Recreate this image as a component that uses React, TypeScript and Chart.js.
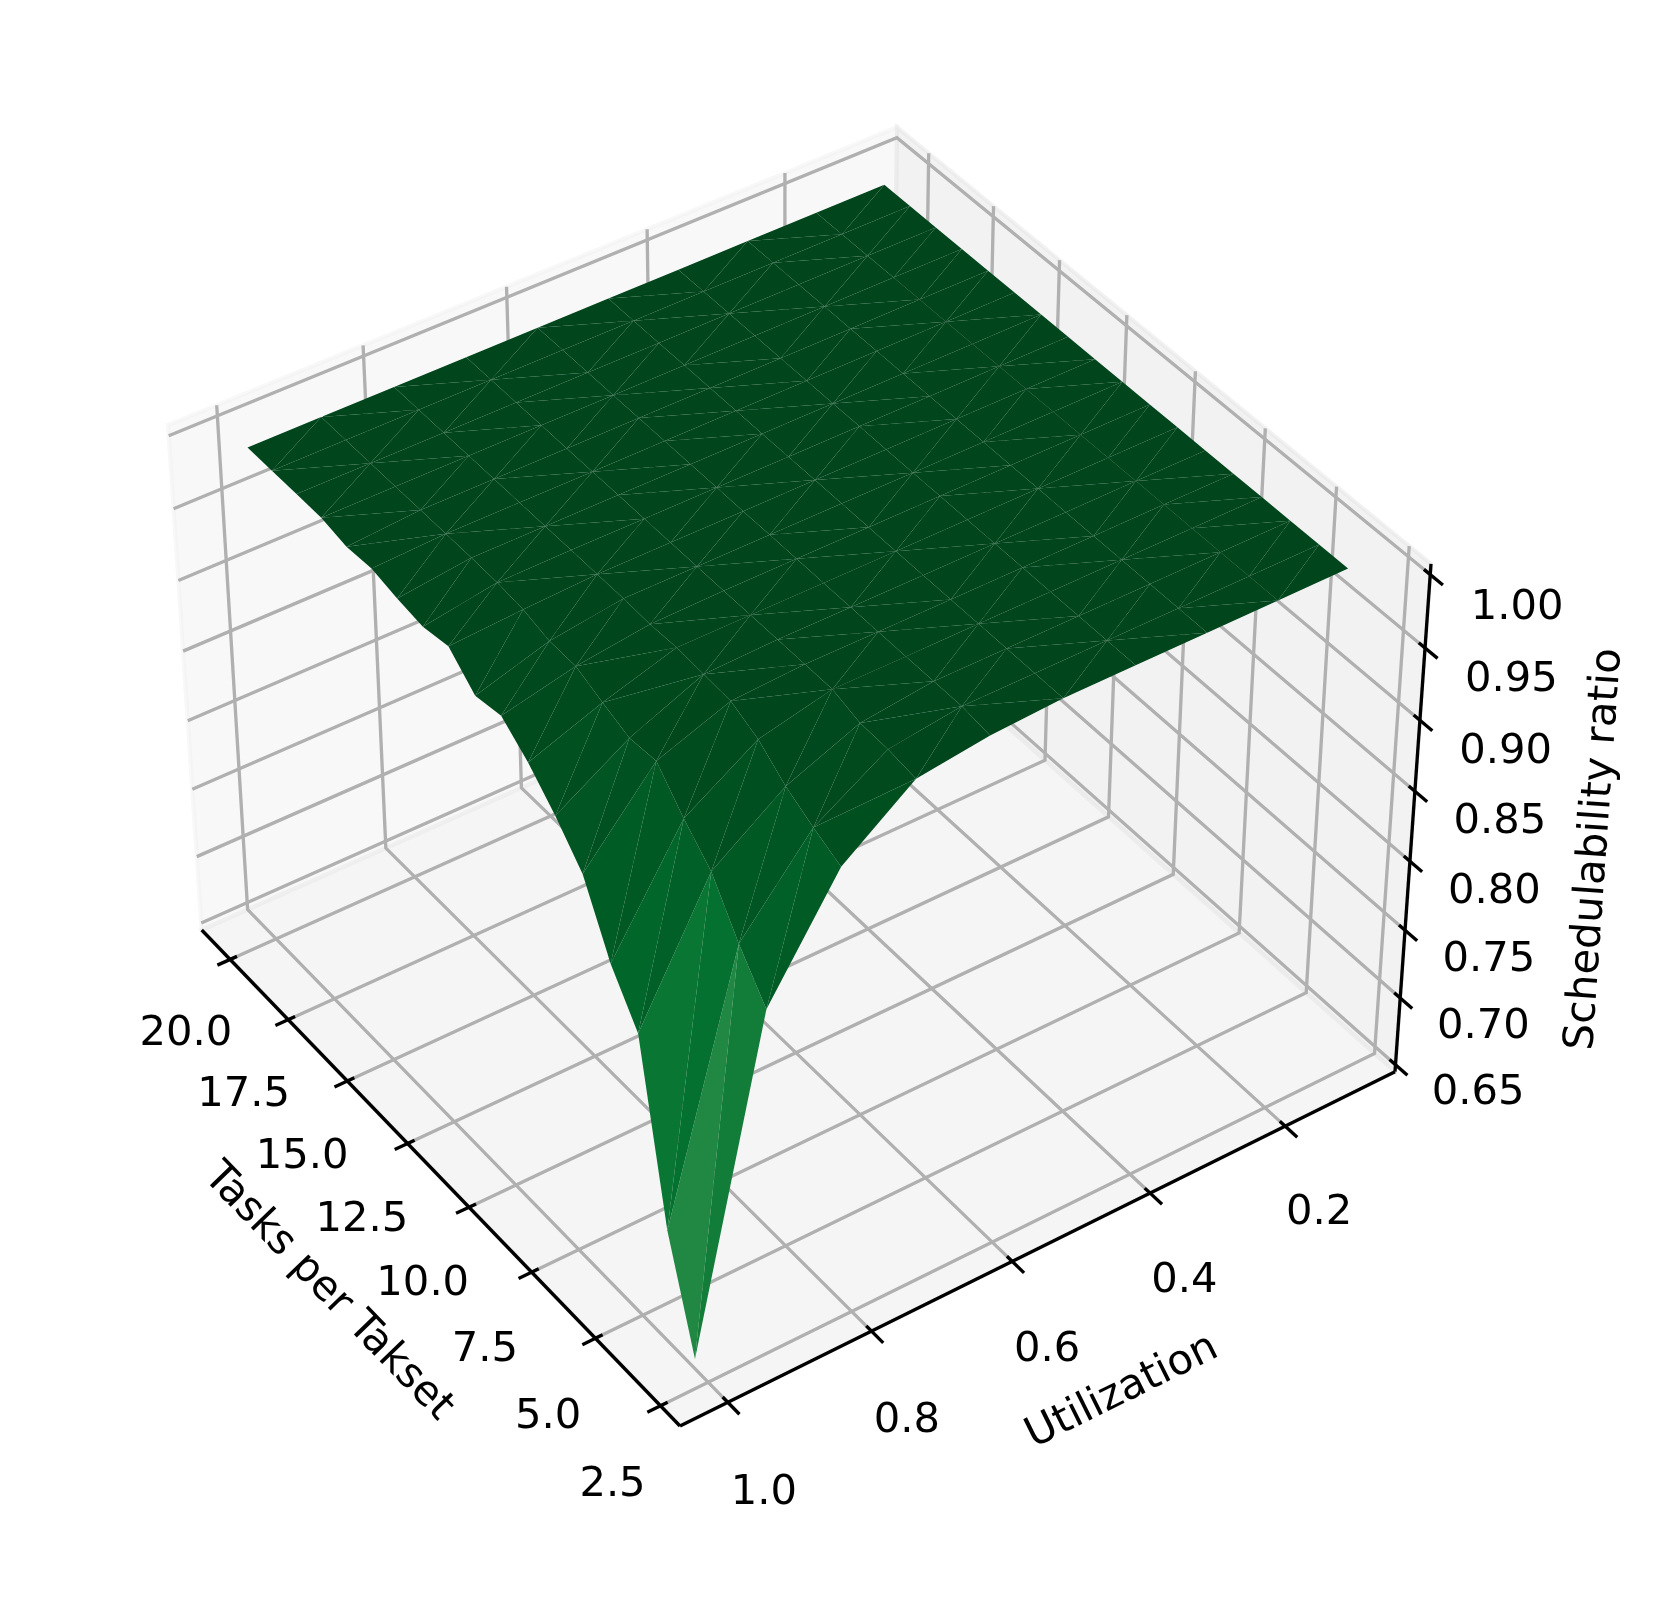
import React, { useEffect, useRef } from "react";
import { Chart, registerables } from "chart.js";

Chart.register(...registerables);

const WIDTH = 1653;
const HEIGHT = 1602;

// ---- data ----
const tasksPerTaskset = [20, 19, 18, 17, 16, 15, 14, 13, 12, 11, 10, 9, 8, 7, 6, 5, 4, 3];
const utilization = [1.0, 0.9, 0.8, 0.7, 0.6, 0.5, 0.4, 0.3, 0.2, 0.1];

const ratioTasks20 = [0.998, 0.998, 0.998, 0.998, 0.998, 0.998, 0.998, 0.998, 0.998, 0.998];
const ratioTasks19 = [0.998, 0.998, 0.998, 0.998, 0.998, 0.998, 0.998, 0.998, 0.998, 0.998];
const ratioTasks18 = [0.998, 0.998, 0.998, 0.998, 0.998, 0.998, 0.998, 0.998, 0.998, 0.998];
const ratioTasks17 = [0.998, 0.998, 0.998, 0.998, 0.998, 0.998, 0.998, 0.998, 0.998, 0.998];
const ratioTasks16 = [0.9944, 0.998, 0.998, 0.998, 0.998, 0.998, 0.998, 0.998, 0.998, 0.998];
const ratioTasks15 = [0.996, 0.998, 0.998, 0.998, 0.998, 0.998, 0.998, 0.998, 0.998, 0.998];
const ratioTasks14 = [0.992, 0.998, 0.998, 0.998, 0.998, 0.998, 0.998, 0.998, 0.998, 0.998];
const ratioTasks13 = [0.9893, 0.9975, 0.998, 0.998, 0.998, 0.998, 0.998, 0.998, 0.998, 0.998];
const ratioTasks12 = [0.9928, 0.9957, 0.998, 0.998, 0.998, 0.998, 0.998, 0.998, 0.998, 0.998];
const ratioTasks11 = [0.9761, 0.9911, 0.998, 0.998, 0.998, 0.998, 0.998, 0.998, 0.998, 0.998];
const ratioTasks10 = [0.9795, 0.9907, 0.997, 0.998, 0.998, 0.998, 0.998, 0.998, 0.998, 0.998];
const ratioTasks9 = [0.9649, 0.983, 0.998, 0.998, 0.998, 0.998, 0.998, 0.998, 0.998, 0.998];
const ratioTasks8 = [0.946, 0.976, 0.9967, 0.998, 0.998, 0.998, 0.998, 0.998, 0.998, 0.998];
const ratioTasks7 = [0.9236, 0.9776, 0.9955, 0.998, 0.998, 0.998, 0.998, 0.998, 0.998, 0.998];
const ratioTasks6 = [0.8796, 0.9559, 0.9867, 0.998, 0.998, 0.998, 0.998, 0.998, 0.998, 0.998];
const ratioTasks5 = [0.8492, 0.9374, 0.9722, 0.9923, 0.998, 0.998, 0.998, 0.998, 0.998, 0.998];
const ratioTasks4 = [0.7272, 0.9057, 0.9617, 0.9916, 0.998, 0.998, 0.998, 0.998, 0.998, 0.998];
const ratioTasks3 = [0.652, 0.8785, 0.9527, 0.989, 0.9955, 0.998, 0.998, 0.998, 0.998, 0.998];

const ratios = [
  ratioTasks20, ratioTasks19, ratioTasks18, ratioTasks17, ratioTasks16, ratioTasks15,
  ratioTasks14, ratioTasks13, ratioTasks12, ratioTasks11, ratioTasks10, ratioTasks9,
  ratioTasks8, ratioTasks7, ratioTasks6, ratioTasks5, ratioTasks4, ratioTasks3,
];

// which cells of the triangulation split along the (t, u) -> (t-1, u-0.1) diagonal
const fallingDiagonals = [
  [1, 2, 4, 5, 7],
  [0, 3, 5, 7],
  [1, 2, 3, 6],
  [0, 4, 5, 7],
  [0, 2, 4, 5, 7],
  [1, 3, 4, 5, 8],
  [2, 3, 6, 7],
  [1, 4, 6, 8],
  [2, 5, 8],
  [3, 4, 6, 7],
  [1, 2, 4, 6],
  [1, 3, 5, 7],
  [2, 3, 4, 6, 8],
  [2, 4, 6, 8],
  [3, 5, 7, 8],
  [3, 5],
  [2, 4, 6, 7],
];

const tasksTicks = [2.5, 5, 7.5, 10, 12.5, 15, 17.5, 20];
const tasksTickLabels = ["2.5", "5.0", "7.5", "10.0", "12.5", "15.0", "17.5", "20.0"];
const utilTicks = [0.2, 0.4, 0.6, 0.8, 1.0];
const utilTickLabels = ["0.2", "0.4", "0.6", "0.8", "1.0"];
const ratioTicks = [0.65, 0.7, 0.75, 0.8, 0.85, 0.9, 0.95, 1.0];
const ratioTickLabels = ["0.65", "0.70", "0.75", "0.80", "0.85", "0.90", "0.95", "1.00"];

const greens = ["#f7fcf5", "#e5f5e0", "#c7e9c0", "#a1d99b", "#74c476", "#41ab5d", "#238b45", "#006d2c", "#00441b"];

// ---- view: box limits and camera ----
const tasksRange = [1.7604, 21.2396];
const utilRange = [0.034375, 1.065625];
const ratioRange = [0.64475, 1.00725];

const cam = {
  ox: 680, oy: 1426,
  ax: -462.86, ay: -424.82,
  bx: 790.51, by: -296.29,
  cx: -46.15, cy: -568.5,
  p: 0.07654, q: 0.05413, r: -0.05877,
};

type P3 = [number, number, number];

function project(a: number, b: number, c: number) {
  const w = 1 + a * cam.p + b * cam.q + c * cam.r;
  return {
    x: (cam.ox + a * cam.ax + b * cam.bx + c * cam.cx) / w,
    y: (cam.oy + a * cam.ay + b * cam.by + c * cam.cy) / w,
  };
}
const depth = (p: P3) => 1 + p[0] * cam.p + p[1] * cam.q + p[2] * cam.r;
const aOf = (t: number) => (t - tasksRange[0]) / (tasksRange[1] - tasksRange[0]);
const bOf = (u: number) => (utilRange[1] - u) / (utilRange[1] - utilRange[0]);
const cOf = (z: number) => (z - ratioRange[0]) / (ratioRange[1] - ratioRange[0]);

function greensAt(v: number) {
  const t = Math.max(0, Math.min(1, v)) * (greens.length - 1);
  const i = Math.min(greens.length - 2, Math.floor(t));
  const f = t - i;
  const rgb = (h: string) => [1, 3, 5].map((k) => parseInt(h.slice(k, k + 2), 16));
  const c0 = rgb(greens[i]);
  const c1 = rgb(greens[i + 1]);
  const m = c0.map((v0, k) => Math.round(v0 + (c1[k] - v0) * f));
  return `rgb(${m[0]},${m[1]},${m[2]})`;
}

function polygon(points: P3[], fill: string, stroke?: string, strokeWidth = 0) {
  const data = points.map((p) => project(p[0], p[1], p[2]));
  data.push({ ...data[0] });
  return {
    data,
    fill: "shape",
    backgroundColor: fill,
    borderColor: stroke ?? fill,
    borderWidth: strokeWidth,
    pointRadius: 0,
    tension: 0,
    clip: false,
  };
}

function polyline(points: P3[], color: string, width: number) {
  return {
    data: points.map((p) => project(p[0], p[1], p[2])),
    fill: false,
    borderColor: color,
    borderWidth: width,
    borderCapStyle: "butt",
    borderJoinStyle: "miter",
    pointRadius: 0,
    tension: 0,
    clip: false,
  };
}

function surfaceTriangles() {
  const tris: { pts: P3[]; mean: number; d: number }[] = [];
  const vert = (i: number, j: number): P3 => [aOf(tasksPerTaskset[i]), bOf(utilization[j]), cOf(ratios[i][j])];
  const push = (ids: [number, number][]) => {
    const pts = ids.map(([i, j]) => vert(i, j));
    const mean = ids.reduce((s, [i, j]) => s + ratios[i][j], 0) / 3;
    const d = pts.reduce((s, p) => s + depth(p), 0) / 3;
    tris.push({ pts, mean, d });
  };
  for (let i = 0; i < tasksPerTaskset.length - 1; i++) {
    for (let j = 0; j < utilization.length - 1; j++) {
      if (fallingDiagonals[i].includes(j)) {
        push([[i, j], [i + 1, j], [i + 1, j + 1]]);
        push([[i, j], [i, j + 1], [i + 1, j + 1]]);
      } else {
        push([[i, j], [i + 1, j], [i, j + 1]]);
        push([[i + 1, j], [i, j + 1], [i + 1, j + 1]]);
      }
    }
  }
  tris.sort((s, t) => t.d - s.d);
  return tris;
}

function buildDatasets() {
  const painted: any[] = [];
  // panes
  painted.push(polygon([[1, 0, 0], [1, 1, 0], [1, 1, 1], [1, 0, 1]], "rgba(242,242,242,0.5)", "rgba(242,242,242,0.5)", 4.17));
  painted.push(polygon([[1, 1, 0], [0, 1, 0], [0, 1, 1], [1, 1, 1]], "rgba(230,230,230,0.5)", "rgba(230,230,230,0.5)", 4.17));
  painted.push(polygon([[0, 0, 0], [1, 0, 0], [1, 1, 0], [0, 1, 0]], "rgba(236,236,236,0.5)", "rgba(236,236,236,0.5)", 4.17));

  // grid
  const gridColor = "#b0b0b0";
  const gridW = 3.33;
  tasksTicks.forEach((t) => {
    const a = aOf(t);
    painted.push(polyline([[a, 0, 0], [a, 1, 0], [a, 1, 1]], gridColor, gridW));
  });
  utilTicks.forEach((u) => {
    const b = bOf(u);
    painted.push(polyline([[0, b, 0], [1, b, 0], [1, b, 1]], gridColor, gridW));
  });
  ratioTicks.forEach((z) => {
    const c = cOf(z);
    painted.push(polyline([[1, 0, c], [1, 1, c], [0, 1, c]], gridColor, gridW));
  });

  // axis lines and tick marks
  painted.push(polyline([[0, 0, 0], [1, 0, 0]], "#000", gridW));
  painted.push(polyline([[0, 0, 0], [0, 1, 0]], "#000", gridW));
  painted.push(polyline([[0, 1, 0], [0, 1, 1]], "#000", gridW));
  tasksTicks.forEach((t) => {
    const a = aOf(t);
    painted.push(polyline([[a, -0.0175, 0], [a, 0.0095, 0]], "#000", gridW));
  });
  utilTicks.forEach((u) => {
    const b = bOf(u);
    painted.push(polyline([[-0.0225, b, 0], [0.01, b, 0]], "#000", gridW));
  });
  ratioTicks.forEach((z) => {
    const c = cOf(z);
    painted.push(polyline([[-0.022, 1, c], [0.011, 1, c]], "#000", gridW));
  });

  // surface, far faces first
  surfaceTriangles().forEach((tri) => {
    painted.push(polygon(tri.pts, greensAt(tri.mean)));
  });

  // Chart.js paints the first dataset last
  return painted.reverse();
}

const FONT = '41.67px "DejaVu Sans"';

const axisText = {
  id: "axisText",
  afterDatasetsDraw(chart: any) {
    const ctx = chart.ctx;
    ctx.save();
    ctx.fillStyle = "#000";
    ctx.font = FONT;
    ctx.textAlign = "center";
    ctx.textBaseline = "middle";
    const put = (text: string, p: { x: number; y: number }, angle = 0) => {
      ctx.save();
      ctx.translate(p.x, p.y);
      ctx.rotate(angle);
      ctx.fillText(text, 0, 0);
      ctx.restore();
    };
    tasksTicks.forEach((t, i) => put(tasksTickLabels[i], project(aOf(t) - 0.006, -0.069, -0.104)));
    utilTicks.forEach((u, i) => put(utilTickLabels[i], project(-0.069, bOf(u), -0.112)));
    ratioTicks.forEach((z, i) => put(ratioTickLabels[i], project(-0.094, 1.046, cOf(z) * 0.989 + 0.003)));

    const angle = (from: P3, to: P3) => {
      const p0 = project(from[0], from[1], from[2]);
      const p1 = project(to[0], to[1], to[2]);
      return Math.atan2(p1.y - p0.y, p1.x - p0.x);
    };
    put("Tasks per Takset", project(0.5, -0.145, -0.152), angle([1, 0, 0], [0, 0, 0]));
    put("Utilization", project(-0.14, 0.505, -0.163), angle([0, 0, 0], [0, 1, 0]));
    put("Schedulability ratio", project(-0.19, 1.104, 0.563), angle([0, 1, 0], [0, 1, 1]));
    ctx.restore();
  },
};

export default function App() {
  const ref = useRef<HTMLCanvasElement | null>(null);
  useEffect(() => {
    if (!ref.current) return;
    const chart = new Chart(ref.current, {
      type: "line",
      data: { datasets: buildDatasets() },
      options: {
        animation: false,
        responsive: false,
        devicePixelRatio: 1,
        layout: { padding: 0 },
        events: [],
        plugins: { legend: { display: false }, tooltip: { enabled: false }, title: { display: false } },
        scales: {
          x: { type: "linear", min: 0, max: WIDTH, display: false },
          y: { type: "linear", min: 0, max: HEIGHT, reverse: true, display: false },
        },
      },
      plugins: [axisText],
    } as any);
    return () => chart.destroy();
  }, []);
  return (
    <canvas
      ref={ref}
      width={WIDTH}
      height={HEIGHT}
      style={{ position: "absolute", left: 0, top: 0, display: "block", background: "#fff" }}
    />
  );
}
